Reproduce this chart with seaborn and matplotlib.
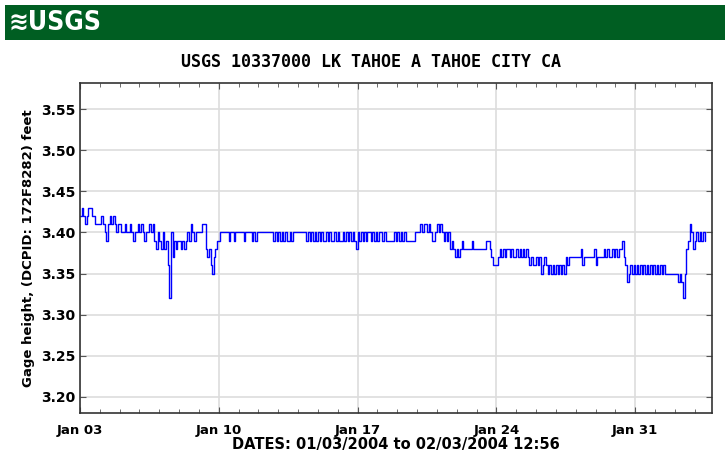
import numpy as np
import pandas as pd
import matplotlib
matplotlib.use("Agg")
import matplotlib.pyplot as plt
import matplotlib.dates as mdates
from matplotlib.patches import Rectangle
import seaborn as sns

# gage height (feet), read every 2 hours starting 2004-01-03 00:00, one row per day
gage_height = [
    3.42, 3.43, 3.42, 3.41, 3.42, 3.43, 3.43, 3.42, 3.42, 3.41, 3.41, 3.41,  # Jan 03
    3.41, 3.42, 3.41, 3.40, 3.39, 3.41, 3.42, 3.41, 3.42, 3.41, 3.40, 3.41,  # Jan 04
    3.41, 3.40, 3.40, 3.41, 3.40, 3.40, 3.41, 3.40, 3.39, 3.40, 3.40, 3.41,  # Jan 05
    3.40, 3.41, 3.40, 3.39, 3.40, 3.40, 3.41, 3.40, 3.41, 3.39, 3.38, 3.40,  # Jan 06
    3.39, 3.38, 3.40, 3.38, 3.39, 3.36, 3.32, 3.40, 3.37, 3.39, 3.38, 3.39,  # Jan 07
    3.39, 3.38, 3.39, 3.38, 3.39, 3.40, 3.39, 3.41, 3.40, 3.39, 3.40, 3.40,  # Jan 08
    3.40, 3.40, 3.41, 3.41, 3.38, 3.37, 3.38, 3.36, 3.35, 3.37, 3.38, 3.39,  # Jan 09
    3.39, 3.40, 3.40, 3.40, 3.40, 3.40, 3.39, 3.40, 3.40, 3.39, 3.40, 3.40,  # Jan 10
    3.40, 3.40, 3.40, 3.39, 3.40, 3.40, 3.40, 3.40, 3.39, 3.40, 3.39, 3.40,  # Jan 11
    3.40, 3.40, 3.40, 3.40, 3.40, 3.40, 3.40, 3.40, 3.40, 3.39, 3.40, 3.39,  # Jan 12
    3.40, 3.39, 3.40, 3.39, 3.40, 3.39, 3.39, 3.40, 3.39, 3.40, 3.40, 3.40,  # Jan 13
    3.40, 3.40, 3.40, 3.40, 3.40, 3.39, 3.40, 3.39, 3.40, 3.39, 3.40, 3.39,  # Jan 14
    3.40, 3.39, 3.40, 3.39, 3.39, 3.40, 3.39, 3.40, 3.39, 3.39, 3.40, 3.39,  # Jan 15
    3.40, 3.39, 3.39, 3.40, 3.39, 3.40, 3.39, 3.40, 3.39, 3.40, 3.39, 3.38,  # Jan 16
    3.40, 3.39, 3.40, 3.39, 3.40, 3.39, 3.40, 3.40, 3.39, 3.40, 3.39, 3.40,  # Jan 17
    3.39, 3.40, 3.40, 3.39, 3.40, 3.39, 3.39, 3.39, 3.39, 3.39, 3.40, 3.39,  # Jan 18
    3.40, 3.39, 3.40, 3.39, 3.40, 3.39, 3.39, 3.39, 3.39, 3.39, 3.39, 3.40,  # Jan 19
    3.40, 3.40, 3.41, 3.40, 3.41, 3.41, 3.40, 3.41, 3.40, 3.39, 3.39, 3.40,  # Jan 20
    3.41, 3.40, 3.41, 3.40, 3.39, 3.40, 3.39, 3.40, 3.38, 3.39, 3.38, 3.37,  # Jan 21
    3.38, 3.37, 3.38, 3.39, 3.38, 3.38, 3.38, 3.38, 3.38, 3.39, 3.38, 3.38,  # Jan 22
    3.38, 3.38, 3.38, 3.38, 3.38, 3.38, 3.39, 3.39, 3.38, 3.37, 3.36, 3.36,  # Jan 23
    3.36, 3.37, 3.38, 3.37, 3.38, 3.37, 3.38, 3.38, 3.37, 3.38, 3.37, 3.37,  # Jan 24
    3.38, 3.37, 3.38, 3.37, 3.38, 3.37, 3.38, 3.37, 3.36, 3.37, 3.36, 3.36,  # Jan 25
    3.37, 3.36, 3.37, 3.35, 3.36, 3.37, 3.36, 3.35, 3.36, 3.35, 3.36, 3.35,  # Jan 26
    3.36, 3.35, 3.36, 3.35, 3.36, 3.35, 3.37, 3.36, 3.37, 3.37, 3.37, 3.37,  # Jan 27
    3.37, 3.37, 3.37, 3.38, 3.36, 3.37, 3.37, 3.37, 3.37, 3.37, 3.37, 3.38,  # Jan 28
    3.36, 3.37, 3.37, 3.37, 3.37, 3.38, 3.37, 3.38, 3.37, 3.37, 3.38, 3.37,  # Jan 29
    3.38, 3.37, 3.38, 3.38, 3.39, 3.37, 3.36, 3.34, 3.35, 3.36, 3.35, 3.36,  # Jan 30
    3.35, 3.36, 3.35, 3.36, 3.35, 3.36, 3.35, 3.36, 3.35, 3.36, 3.35, 3.36,  # Jan 31
    3.35, 3.36, 3.35, 3.36, 3.35, 3.36, 3.35, 3.35, 3.35, 3.35, 3.35, 3.35,  # Feb 01
    3.35, 3.35, 3.34, 3.35, 3.34, 3.32, 3.35, 3.38, 3.39, 3.41, 3.40, 3.38,  # Feb 02
    3.39, 3.40, 3.39, 3.40, 3.39, 3.40, 3.39,                                # Feb 03
]
times = pd.date_range("2004-01-03 00:00", periods=len(gage_height), freq="2h")
df = pd.DataFrame({"time": times, "gage": gage_height})

y_ticks = [3.20, 3.25, 3.30, 3.35, 3.40, 3.45, 3.50, 3.55]
x_ticks = pd.to_datetime(["2004-01-03", "2004-01-10", "2004-01-17", "2004-01-24", "2004-01-31"])
x_labels = ["Jan 03", "Jan 10", "Jan 17", "Jan 24", "Jan 31"]

sns.set_style("ticks")
plt.rcParams["font.family"] = ["DejaVu Sans"]
plt.rcParams["text.color"] = "black"
plt.rcParams["axes.labelcolor"] = "black"
plt.rcParams["xtick.labelcolor"] = "black"
plt.rcParams["ytick.labelcolor"] = "black"

fig = plt.figure(figsize=(7.25, 4.58), dpi=100)

# usgs banner
fig.patches.append(Rectangle((5 / 725, 1 - 40 / 458), 720 / 725, 35 / 458,
                             transform=fig.transFigure, facecolor="#005e22",
                             edgecolor="none", zorder=0))
fig.text(8 / 725, 1 - 23 / 458, "\u224bUSGS", color="white", fontsize=19,
         fontweight="bold", va="center", ha="left", fontstretch="condensed")

fig.text(371 / 725, 1 - 62 / 458, "USGS 10337000 LK TAHOE A TAHOE CITY CA",
         fontsize=12, fontweight="bold", family="DejaVu Sans Mono",
         ha="center", va="center")

ax = fig.add_axes([80 / 725, 0.0983, 632 / 725, 0.8194 - 0.0983])
sns.lineplot(data=df, x="time", y="gage", ax=ax, color="#0000ff",
             linewidth=1.0, drawstyle="steps-post")

ax.set_ylim(3.1805, 3.582)
ax.set_xlim(pd.Timestamp("2004-01-03 00:00"), pd.Timestamp("2004-02-03 21:00"))
ax.set_yticks(y_ticks)
ax.set_yticklabels([f"{v:.2f}" for v in y_ticks], fontweight="bold", fontsize=10)
ax.set_xticks(x_ticks)
ax.set_xticklabels(x_labels, fontweight="bold", fontsize=9.5)
ax.xaxis.set_minor_locator(mdates.DayLocator())

ax.grid(True, which="major", color="#dddddd", linewidth=1.2)
ax.set_axisbelow(True)
ax.tick_params(which="both", direction="in", top=True, right=True,
               length=4, color="#555555")
ax.tick_params(which="minor", length=3)
ax.tick_params(axis="x", pad=8)
for s in ax.spines.values():
    s.set_color("#333333")
    s.set_linewidth(1.2)

ax.set_ylabel("Gage height, (DCPID: 172F8282) feet", fontweight="bold", fontsize=9.5)
ax.set_xlabel("DATES: 01/03/2004 to 02/03/2004 12:56", fontweight="bold", fontsize=10.5,
              labelpad=0)

fig.savefig("out.png", dpi=100)
